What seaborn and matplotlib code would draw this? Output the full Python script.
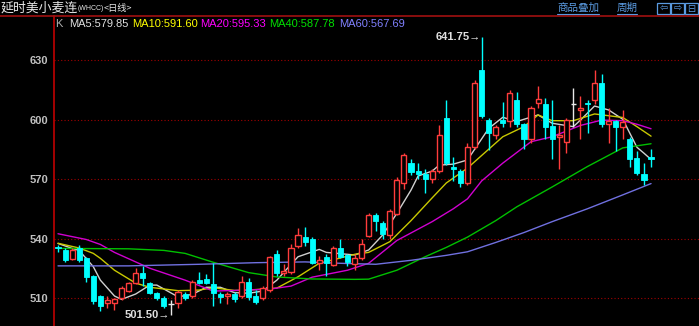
import numpy as np
import pandas as pd
import matplotlib
matplotlib.use("Agg")
import matplotlib.pyplot as plt
import seaborn as sns
from matplotlib.lines import Line2D
from matplotlib.patches import Rectangle

# ---------------- data ----------------
opens = [535.3, 534, 529.5, 535, 530, 521, 511, 507.5, 507.5, 510,
         513.5, 517.5, 522.5, 517.5, 512.5, 510, 507, 507.5, 512, 511,
         519, 519.5, 517, 512, 511, 512, 511, 518, 511, 510,
         514, 532, 522.5, 523, 536, 541, 540, 527.5, 530.5, 526.5,
         535, 531.5, 527, 530, 541.5, 552, 548, 542, 552.5, 568,
         578, 574, 572.5, 570, 574, 601, 576, 574, 568, 586,
         625, 600, 592, 600, 599, 610, 597.5, 590, 608.5, 608,
         596.5, 591, 588.5, 608, 605, 608.3, 610, 618.5, 597.5, 599,
         596, 590, 580.5, 572.5, 581]
highs = [536.5, 535, 535, 536.5, 530.5, 521.5, 511.5, 511, 510, 516,
         518, 525, 526, 518, 513, 511, 509, 514, 513, 519,
         523, 522, 527.7, 513, 513, 513, 521, 520, 514, 516,
         531, 534, 527, 537, 545.5, 546, 541, 531, 532, 536,
         540, 532, 532, 540, 553, 553, 549, 555, 571, 583,
         580, 578, 575, 575, 597, 610, 581, 575, 588, 620,
         641.75, 601, 597, 609, 615, 614, 598, 607, 617, 611,
         610, 597, 601, 616, 612, 610, 625, 623, 606, 600,
         605, 591, 584, 578, 585]
lows = [533, 528, 529, 528, 518, 507, 503.5, 505, 504, 509,
        513, 517, 516, 512, 509, 505, 501.5, 505, 509, 510,
        517, 517, 506, 507.5, 507, 508, 510, 509, 507, 509,
        513, 521, 521, 522, 535, 536, 527, 524, 521, 526,
        530, 526, 524, 529, 541, 544, 540, 540, 552, 565,
        572, 570, 563, 568, 573, 577, 569, 566, 567, 585,
        601, 584.6, 590, 596, 596, 596, 585, 588, 606, 590,
        580, 575, 583, 596, 590, 593, 608, 596, 588, 584,
        590, 576, 572, 567, 576]
closes = [535, 529, 534, 529, 520.5, 508.5, 506, 509, 509.5, 515,
          517.5, 522.5, 520, 512.5, 510, 506, 507, 513, 510, 518,
          517.5, 517.5, 512.5, 510.5, 512, 509.5, 518, 510.5, 508, 515,
          530.5, 522.5, 523.5, 535, 542, 538, 527.5, 529, 527.5, 535,
          530.5, 528, 530, 537, 552, 549, 542.5, 554, 569.5, 582,
          573.5, 572.5, 570, 574, 592, 578, 575, 568, 586, 618.5,
          602, 593, 596, 598, 613.5, 597.5, 590, 606, 610.5, 596,
          590, 592, 600, 608, 606, 608, 618.5, 597.5, 599, 596,
          598.5, 580, 573, 569.5, 579.85]

ma5_idx = [0, 2, 3, 5, 6, 8, 9, 11, 13, 14, 17, 19, 21, 23, 25, 27, 29, 31, 32, 34,
           37, 38, 42, 44, 46, 48, 50, 51, 53, 54, 56, 58, 61, 63, 65, 68, 70, 73, 74,
           76, 78, 80, 82, 83, 84]
ma5_val = [537.5, 535, 534, 525.8, 519, 511, 509.3, 512, 516.5, 516.5, 510.6, 511.8,
           515.4, 515.4, 512.7, 512.4, 513.5, 519, 523, 530.8, 534.5, 533, 531.7, 534.2,
           541.8, 552.7, 564.4, 571.5, 574, 577, 577.5, 579.6, 595.5, 601.1, 599, 602.3,
           598.1, 596.4, 599.7, 606.8, 604.8, 600.1, 586, 583, 579.85]
ma10_idx = [0, 3, 5, 6, 8, 11, 13, 17, 20, 22, 25, 27, 31, 34, 37, 42, 44, 47, 50, 53,
            55, 58, 61, 63, 66, 68, 70, 73, 76, 80, 82, 84]
ma10_val = [537.6, 535.2, 532.5, 530, 524, 517.5, 515.4, 513.7, 514, 515.2, 513.8, 514,
            515, 520.7, 527.5, 532, 533, 538.4, 549, 560.5, 568, 575.5, 585, 591.3, 596.4,
            602.3, 599.4, 599.4, 602.8, 601, 596.4, 591.6]
ma20_idx = [0, 4, 6, 8, 13, 18, 22, 27, 30, 33, 36, 41, 44, 48, 53, 56, 58, 60, 63, 67,
            70, 74, 77, 80, 82, 84]
ma20_val = [542.4, 539.5, 537, 533, 525, 519, 513.5, 514, 514.5, 516, 520.5, 524, 527.5,
            539, 548.5, 555, 560, 569, 578, 588.8, 591.3, 597, 599.7, 599.4, 597.6, 595.33]
ma40_idx = [0, 10, 15, 18, 22, 27, 31, 36, 42, 44, 48, 52, 55, 58, 62, 65, 70, 75, 80, 84]
ma40_val = [535, 534.8, 534, 532.5, 528, 522.8, 520.6, 519.6, 519.4, 519.5, 524, 530.8,
            535.5, 540.7, 549, 556, 566, 576.3, 585.7, 587.78]
ma60_idx = [0, 10, 20, 28, 35, 40, 45, 50, 55, 58, 62, 66, 70, 75, 80, 84]
ma60_val = [526.2, 526.2, 527, 527.8, 528.2, 527.5, 527, 529, 531.5, 533.3, 538, 543,
            548.5, 555, 562, 567.69]

ma_names = ["MA5", "MA10", "MA20", "MA40", "MA60"]
ma_last = ["579.85", "591.60", "595.33", "587.78", "567.69"]
y_ticks = [510, 540, 570, 600, 630]
title_main = "延时美小麦连"
title_code = "(WHCC)"
title_period = "<日线>"
menu_items = ["商品叠加", "周期"]
high_label = "641.75"
low_label = "501.50"

# ---------------- style ----------------
sns.set_theme(style="dark", rc={"figure.facecolor": "black", "axes.facecolor": "black"})
plt.rcParams["font.family"] = ["Liberation Sans", "Noto Sans CJK SC", "DejaVu Sans"]

W, H = 699, 326
fig = plt.figure(figsize=(W / 100, H / 100), dpi=100, facecolor="black")
ax_left, ax_top = 54, 16
ax = fig.add_axes([ax_left / W, 0, (W - ax_left) / W, (H - ax_top) / H])
ax.set_facecolor("black")

x0, dx = 58, 7.06
ax.set_xlim((ax_left - x0) / dx, (W - x0) / dx)
px_per_unit = (298 - 60) / 120.0
ax.set_ylim(630 - (H - 60) / px_per_unit, 630 + (60 - ax_top) / px_per_unit)

# grid
for v in y_ticks:
    ax.axhline(v, color="#a00000", lw=0.8, ls=(0, (1, 2)), zorder=0)

# MA lines via seaborn
ma_colors = {"MA5": "#d0d0d0", "MA10": "#c8c800", "MA20": "#d000d0",
             "MA40": "#00c000", "MA60": "#7070e0"}
frames = []
for name, idx, val in zip(ma_names, [ma5_idx, ma10_idx, ma20_idx, ma40_idx, ma60_idx],
                          [ma5_val, ma10_val, ma20_val, ma40_val, ma60_val]):
    frames.append(pd.DataFrame({"idx": idx, "value": val, "ma": name}))
ma_df = pd.concat(frames, ignore_index=True)
sns.lineplot(data=ma_df, x="idx", y="value", hue="ma", palette=ma_colors,
             legend=False, estimator=None, sort=True, lw=1.0, ax=ax, zorder=3)

# candles
red = "#ff3c3c"
cyan = "#00ffff"
bw = 0.72
for i, (o, h, l, c) in enumerate(zip(opens, highs, lows, closes)):
    top, bot = max(o, c), min(o, c)
    if c > o:
        ax.vlines(i, top, h, color=red, lw=1, zorder=4)
        ax.vlines(i, l, bot, color=red, lw=1, zorder=4)
        ax.add_patch(Rectangle((i - bw / 2, bot), bw, top - bot, facecolor="black",
                               edgecolor=red, lw=1, zorder=5))
    elif c < o:
        ax.vlines(i, l, h, color=cyan, lw=1, zorder=4)
        ax.add_patch(Rectangle((i - bw / 2, bot), bw, max(top - bot, 0.5), facecolor=cyan,
                               edgecolor=cyan, lw=0.6, zorder=5))
    else:
        ax.vlines(i, l, h, color="#e8e8e8", lw=1, zorder=4)
        ax.hlines(c, i - bw / 2, i + bw / 2, color="#e8e8e8", lw=1, zorder=5)

# extreme labels
hi_i = int(np.argmax(highs))
lo_i = int(np.argmin(lows))
ax.text(hi_i - 0.15, highs[hi_i], high_label + "\u2192", ha="right", va="center",
        color="#e0e0e0", fontsize=8, fontweight="bold", zorder=6)
ax.text(lo_i - 0.15, lows[lo_i], low_label + "\u2192", ha="right", va="center",
        color="#e0e0e0", fontsize=8, fontweight="bold", zorder=6)

# axes cosmetics
ax.set_xticks([])
ax.set_yticks(y_ticks)
ax.set_yticklabels([str(v) for v in y_ticks], color="#c0c0c0", fontsize=8, fontweight="bold")
ax.tick_params(axis="y", length=0, pad=4)
ax.set_xlabel("")
ax.set_ylabel("")
ax.grid(False)
for s in ["top", "right", "bottom"]:
    ax.spines[s].set_visible(False)
ax.spines["left"].set_color("#c00000")
ax.spines["left"].set_linewidth(1.2)


def fx(px):
    return px / W


def fy(py):
    return 1 - py / H


# top separator line
fig.add_artist(Line2D([0, 1], [fy(16), fy(16)], color="#a01010", lw=1.2))

# title
fig.text(fx(1), fy(8), title_main, color="#e8e8e8", fontsize=9.3, va="center", ha="left",
         family=["Noto Sans CJK SC", "DejaVu Sans"])
fig.text(fx(78), fy(8), title_code, color="#e8e8e8", fontsize=5.0, va="center", ha="left",
         family=["Liberation Sans", "DejaVu Sans"])
fig.text(fx(104), fy(8), title_period, color="#e8e8e8", fontsize=6.6, va="center", ha="left",
         family=["Noto Sans CJK SC", "DejaVu Sans"])

# legend row
fig.text(fx(55), fy(24), "K", color="#b0b0b0", fontsize=8, va="center", ha="left")
leg_x = [69, 132, 200, 269, 339]
leg_c = ["#e0e0e0", "#ffff00", "#ff00ff", "#00e000", "#8080ff"]
for x, n, v, c in zip(leg_x, ma_names, ma_last, leg_c):
    fig.text(fx(x), fy(24), f"{n}:{v}", color=c, fontsize=8, va="center", ha="left")

# menu items top-right
blue = "#5a9ae0"
for txt, x, w in zip(menu_items, [557, 617], [42, 20]):
    fig.text(fx(x), fy(8), txt, color=blue, fontsize=7.6, va="center", ha="left",
             family=["Noto Sans CJK SC", "DejaVu Sans"])
    fig.add_artist(Line2D([fx(x), fx(x + w)], [fy(14), fy(14)], color=blue, lw=0.8))

# icon boxes
for bx, sym in zip([657, 671, 685], ["\u21e6", "\u21e8", "\u229f"]):
    fig.add_artist(Rectangle((fx(bx), fy(14)), 13 / W, 11 / H, fill=False,
                             edgecolor=blue, lw=0.9, transform=fig.transFigure))
    fig.text(fx(bx + 6.5), fy(8.5), sym, color=blue, fontsize=7, va="center", ha="center",
             family=["DejaVu Sans"])

fig.savefig("out.png", dpi=100, facecolor="black")
